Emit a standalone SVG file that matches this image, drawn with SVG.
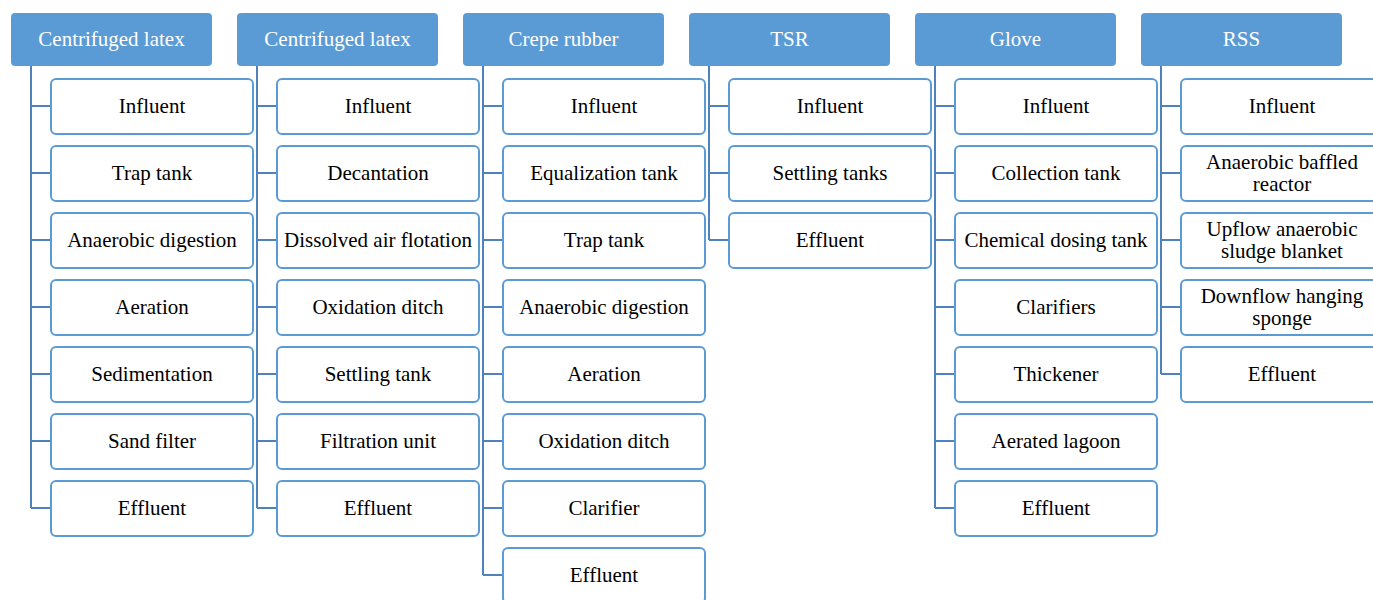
<svg xmlns="http://www.w3.org/2000/svg" width="1373" height="600" viewBox="0 0 1373 600">
<style>
.h rect{fill:#5B9BD5;stroke:#5B9BD5;stroke-width:1}
.h text{fill:#fff;font-family:"Liberation Serif","Times New Roman",serif;font-size:21px;text-anchor:middle}
.c rect{fill:#fff;stroke:#5B9BD5;stroke-width:2}
.c text{fill:#000;font-family:"Liberation Serif","Times New Roman",serif;font-size:21px;text-anchor:middle}
#connectors path{fill:none;stroke:#4F81BD;stroke-width:2}
</style>
<rect width="1373" height="600" fill="#fff"/>
<g id="connectors">
<path d="M31 66V508M31 106H51M31 173H51M31 240H51M31 307H51M31 374H51M31 441H51M31 508H51"/>
<path d="M257 66V508M257 106H277M257 173H277M257 240H277M257 307H277M257 374H277M257 441H277M257 508H277"/>
<path d="M483 66V575M483 106H503M483 173H503M483 240H503M483 307H503M483 374H503M483 441H503M483 508H503M483 575H503"/>
<path d="M709 66V240M709 106H729M709 173H729M709 240H729"/>
<path d="M935 66V508M935 106H955M935 173H955M935 240H955M935 307H955M935 374H955M935 441H955M935 508H955"/>
<path d="M1161 66V374M1161 106H1181M1161 173H1181M1161 240H1181M1161 307H1181M1161 374H1181"/>
</g>
<g id="h1" class="h"><rect x="11.5" y="13.5" width="200" height="52" rx="3"/><text x="111.5" y="46">Centrifuged latex</text></g>
<g id="h2" class="h"><rect x="237.5" y="13.5" width="200" height="52" rx="3"/><text x="337.5" y="46">Centrifuged latex</text></g>
<g id="h3" class="h"><rect x="463.5" y="13.5" width="200" height="52" rx="3"/><text x="563.5" y="46">Crepe rubber</text></g>
<g id="h4" class="h"><rect x="689.5" y="13.5" width="200" height="52" rx="3"/><text x="789.5" y="46">TSR</text></g>
<g id="h5" class="h"><rect x="915.5" y="13.5" width="200" height="52" rx="3"/><text x="1015.5" y="46">Glove</text></g>
<g id="h6" class="h"><rect x="1141.5" y="13.5" width="200" height="52" rx="3"/><text x="1241.5" y="46">RSS</text></g>

<g id="c1" class="c">
<rect x="51" y="79" width="202" height="55" rx="5"/><text x="152" y="113">Influent</text>
<rect x="51" y="146" width="202" height="55" rx="5"/><text x="152" y="180">Trap tank</text>
<rect x="51" y="213" width="202" height="55" rx="5"/><text x="152" y="247">Anaerobic digestion</text>
<rect x="51" y="280" width="202" height="55" rx="5"/><text x="152" y="314">Aeration</text>
<rect x="51" y="347" width="202" height="55" rx="5"/><text x="152" y="381">Sedimentation</text>
<rect x="51" y="414" width="202" height="55" rx="5"/><text x="152" y="448">Sand filter</text>
<rect x="51" y="481" width="202" height="55" rx="5"/><text x="152" y="515">Effluent</text>
</g>
<g id="c2" class="c">
<rect x="277" y="79" width="202" height="55" rx="5"/><text x="378" y="113">Influent</text>
<rect x="277" y="146" width="202" height="55" rx="5"/><text x="378" y="180">Decantation</text>
<rect x="277" y="213" width="202" height="55" rx="5"/><text x="378" y="247">Dissolved air flotation</text>
<rect x="277" y="280" width="202" height="55" rx="5"/><text x="378" y="314">Oxidation ditch</text>
<rect x="277" y="347" width="202" height="55" rx="5"/><text x="378" y="381">Settling tank</text>
<rect x="277" y="414" width="202" height="55" rx="5"/><text x="378" y="448">Filtration unit</text>
<rect x="277" y="481" width="202" height="55" rx="5"/><text x="378" y="515">Effluent</text>
</g>
<g id="c3" class="c">
<rect x="503" y="79" width="202" height="55" rx="5"/><text x="604" y="113">Influent</text>
<rect x="503" y="146" width="202" height="55" rx="5"/><text x="604" y="180">Equalization tank</text>
<rect x="503" y="213" width="202" height="55" rx="5"/><text x="604" y="247">Trap tank</text>
<rect x="503" y="280" width="202" height="55" rx="5"/><text x="604" y="314">Anaerobic digestion</text>
<rect x="503" y="347" width="202" height="55" rx="5"/><text x="604" y="381">Aeration</text>
<rect x="503" y="414" width="202" height="55" rx="5"/><text x="604" y="448">Oxidation ditch</text>
<rect x="503" y="481" width="202" height="55" rx="5"/><text x="604" y="515">Clarifier</text>
<rect x="503" y="548" width="202" height="55" rx="5"/><text x="604" y="582">Effluent</text>
</g>
<g id="c4" class="c">
<rect x="729" y="79" width="202" height="55" rx="5"/><text x="830" y="113">Influent</text>
<rect x="729" y="146" width="202" height="55" rx="5"/><text x="830" y="180">Settling tanks</text>
<rect x="729" y="213" width="202" height="55" rx="5"/><text x="830" y="247">Effluent</text>
</g>
<g id="c5" class="c">
<rect x="955" y="79" width="202" height="55" rx="5"/><text x="1056" y="113">Influent</text>
<rect x="955" y="146" width="202" height="55" rx="5"/><text x="1056" y="180">Collection tank</text>
<rect x="955" y="213" width="202" height="55" rx="5"/><text x="1056" y="247">Chemical dosing tank</text>
<rect x="955" y="280" width="202" height="55" rx="5"/><text x="1056" y="314">Clarifiers</text>
<rect x="955" y="347" width="202" height="55" rx="5"/><text x="1056" y="381">Thickener</text>
<rect x="955" y="414" width="202" height="55" rx="5"/><text x="1056" y="448">Aerated lagoon</text>
<rect x="955" y="481" width="202" height="55" rx="5"/><text x="1056" y="515">Effluent</text>
</g>
<g id="c6" class="c">
<rect x="1181" y="79" width="202" height="55" rx="5"/><text x="1282" y="113">Influent</text>
<rect x="1181" y="146" width="202" height="55" rx="5"/><text x="1282" y="169">Anaerobic baffled</text><text x="1282" y="191">reactor</text>
<rect x="1181" y="213" width="202" height="55" rx="5"/><text x="1282" y="236">Upflow anaerobic</text><text x="1282" y="258">sludge blanket</text>
<rect x="1181" y="280" width="202" height="55" rx="5"/><text x="1282" y="303">Downflow hanging</text><text x="1282" y="325">sponge</text>
<rect x="1181" y="347" width="202" height="55" rx="5"/><text x="1282" y="381">Effluent</text>
</g>
</svg>
